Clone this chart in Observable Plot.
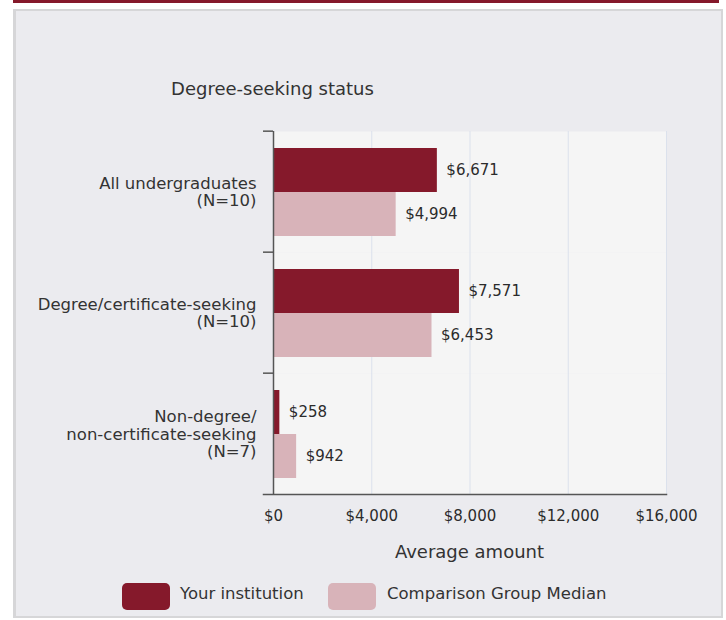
<!DOCTYPE html>
<html>
<head>
<meta charset="utf-8">
<script src="https://cdn.jsdelivr.net/npm/d3@7"></script>
<script src="https://cdn.jsdelivr.net/npm/@observablehq/plot@0.6"></script>
<style>
  body { margin: 0; background: #ffffff; font-family: "DejaVu Sans", sans-serif; color: #333; }
  #wrap { position: relative; width: 726px; height: 620px; overflow: hidden; }
  .redline { position: absolute; left: 13px; top: 0; width: 706px; height: 3px; background: #85192b; }
  .panel { position: absolute; left: 13px; top: 9px; width: 710px; height: 609px; box-sizing: border-box;
           background: #ebebef; border: 2px solid #d6d6d8; border-left-width: 3px; }
  #chart { position: absolute; left: 0; top: 0; }
  .title { position: absolute; left: 0; width: 545px; text-align: center; top: 79px; font-size: 18px; line-height: 20px; color: #333; }
  .xlabel { position: absolute; left: 273px; width: 393px; text-align: center; top: 542px; font-size: 18px; line-height: 20px; color: #333; }
  .sw { position: absolute; top: 583px; width: 48px; height: 27px; border-radius: 5px; }
  .lt { position: absolute; top: 584px; font-size: 16.5px; line-height: 20px; color: #333; white-space: nowrap; }
</style>
</head>
<body>
<div id="wrap">
  <div class="redline"></div>
  <div class="panel"></div>
  <div id="chart"></div>
  <div class="title" id="title"></div>
  <div class="xlabel" id="xlabel"></div>
  <div id="legend"></div>
</div>
<script>
const titleText = "Degree-seeking status";
const xAxisLabel = "Average amount";
const categories = ["All undergraduates", "Degree/certificate-seeking", "Non-degree/\nnon-certificate-seeking"];
const counts = [10, 10, 7];
const series = ["Your institution", "Comparison Group Median"];
const institutionValues = [6671, 7571, 258];
const comparisonValues = [4994, 6453, 942];
const xTicks = [0, 4000, 8000, 12000, 16000];
const colors = ["#85192b", "#d8b3b9"];

const data = categories.flatMap((c, i) => [
  {category: c, series: series[0], value: institutionValues[i]},
  {category: c, series: series[1], value: comparisonValues[i]}
]);

const fmt = d3.format(",");
const money = v => "$" + fmt(v);

const W = 726, H = 575, mt = 130, mb = 80, ml = 273, mr = 60;
const step = (H - mt - mb) / categories.length;

const chart = Plot.plot({
  width: W, height: H,
  marginTop: mt, marginBottom: mb, marginLeft: ml, marginRight: mr,
  style: {fontFamily: "DejaVu Sans", background: "transparent", color: "#333"},
  x: {domain: [xTicks[0], xTicks[xTicks.length - 1]]},
  fy: {domain: categories, padding: 0},
  y: {domain: series, axis: null, paddingInner: 0, paddingOuter: 0.37},
  color: {domain: series, range: colors},
  marks: [
    Plot.frame({fill: "#f5f5f5"}),
    Plot.gridX({ticks: xTicks.slice(1), stroke: "#dbe1ec", strokeOpacity: 1}),
    Plot.barX(data, {fy: "category", y: "series", x: "value", fill: "series"}),
    Plot.text(data, {fy: "category", y: "series", x: "value", text: d => money(d.value),
      textAnchor: "start", dx: 9, fontSize: 15, fill: "#2b2b2b"}),
    Plot.ruleX([0], {stroke: "#555", strokeWidth: 1.5}),
    Plot.axisFy({anchor: "left", tickSize: 0, tickPadding: 17, fontSize: 16.5, lineHeight: 1.06, label: null,
      tickFormat: d => d + "\n(N=" + counts[categories.indexOf(d)] + ")", fill: "#333"}),
    Plot.axisFy({anchor: "left", tickSize: 10, tickFormat: () => "", dy: -step / 2, stroke: "#555", strokeWidth: 1.5, label: null}),
    Plot.frame({facet: "super", anchor: "bottom", insetLeft: -10, stroke: "#555", strokeWidth: 1.5}),
    Plot.axisX({ticks: xTicks, tickFormat: money, tickSize: 0, tickPadding: 16, fontSize: 15, label: null, fill: "#2b2b2b"})
  ]
});
document.getElementById("chart").appendChild(chart);
document.getElementById("title").textContent = titleText;
document.getElementById("xlabel").textContent = xAxisLabel;

const legend = document.getElementById("legend");
const swLeft = [122, 328], txLeft = [180, 387];
series.forEach((s, i) => {
  const sw = document.createElement("div");
  sw.className = "sw"; sw.style.left = swLeft[i] + "px"; sw.style.background = colors[i];
  const t = document.createElement("div");
  t.className = "lt"; t.style.left = txLeft[i] + "px"; t.textContent = s;
  legend.appendChild(sw); legend.appendChild(t);
});
</script>
</body>
</html>
